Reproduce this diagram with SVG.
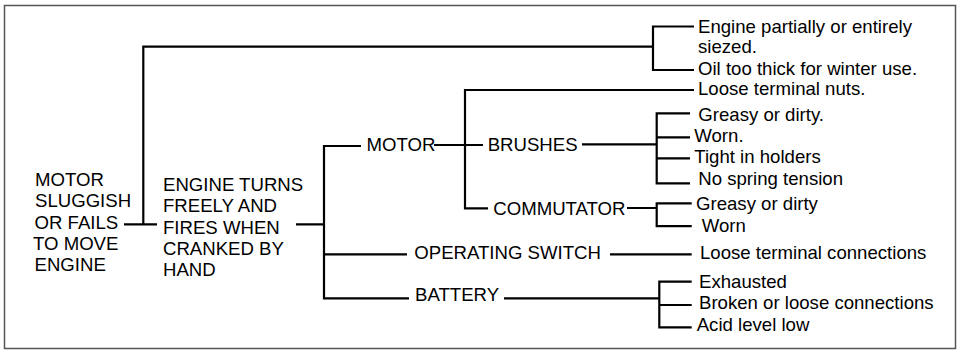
<svg xmlns="http://www.w3.org/2000/svg" width="963" height="355" viewBox="0 0 963 355">
<style>
text{font-family:"Liberation Sans",Arial,sans-serif;font-size:18.6px;fill:#000}
.c{fill:none;stroke:#000;stroke-width:2.2;stroke-linejoin:miter;stroke-linecap:butt}
.frame{fill:#fff;stroke:#555;stroke-width:1.5}
</style>
<rect class="frame" x="4.5" y="5.5" width="951" height="343"/>
<g id="connectors">
<path class="c" d="M124,224.3 H157 M143.3,224.3 V46.7 H653"/>
<path class="c" d="M694,26.5 H653 V70 H694"/>
<path class="c" d="M296,224.3 H324 M361,146 H324 V298.3 H409 M324,254.3 H407"/>
<path class="c" d="M434,145 H483 M694,90 H465 V208.3 H488"/>
<path class="c" d="M582,144.3 H656.7 M690,113.3 H656.7 V183.3 H690 M656.7,137.3 H690 M656.7,158.3 H690"/>
<path class="c" d="M627,208 H656.7 M691.7,203.3 H656.7 V226.2 H691.7"/>
<path class="c" d="M610,254.3 H691.7"/>
<path class="c" d="M504,298.3 H659.3 M691.7,281.7 H659.3 V327.3 H691.7 M659.3,305 H691.7"/>
</g>
<g id="root">
<text x="35" y="186">MOTOR</text>
<text x="35" y="207.3">SLUGGISH</text>
<text x="34.5" y="229">OR FAILS</text>
<text x="33" y="250.3">TO MOVE</text>
<text x="34.5" y="271.3">ENGINE</text>
</g>
<g id="engine-seized"><text x="698" y="32.8">Engine partially or entirely</text><text x="698" y="53">siezed.</text></g>
<g id="oil-thick"><text x="698" y="74.5">Oil too thick for winter use.</text></g>
<g id="engine-turns">
<text x="163" y="190.7">ENGINE TURNS</text>
<text x="163" y="211.8">FREELY AND</text>
<text x="163" y="233.5">FIRES WHEN</text>
<text x="163" y="255">CRANKED BY</text>
<text x="163" y="276.3">HAND</text>
</g>
<g id="motor"><text x="366.5" y="150.7">MOTOR</text></g>
<g id="loose-nuts"><text x="698" y="94.5">Loose terminal nuts.</text></g>
<g id="brushes"><text x="487.7" y="150.7">BRUSHES</text></g>
<g id="b-greasy"><text x="698.3" y="120.5">Greasy or dirty.</text></g>
<g id="b-worn"><text x="694.3" y="142">Worn.</text></g>
<g id="b-tight"><text x="694.3" y="163.3">Tight in holders</text></g>
<g id="b-spring"><text x="698.3" y="185">No spring tension</text></g>
<g id="commutator"><text x="493.3" y="215">COMMUTATOR</text></g>
<g id="c-greasy"><text x="696" y="210">Greasy or dirty</text></g>
<g id="c-worn"><text x="701.7" y="231.7">Worn</text></g>
<g id="switch"><text x="414.3" y="258.5">OPERATING SWITCH</text></g>
<g id="s-loose"><text x="700" y="258.5">Loose terminal connections</text></g>
<g id="battery"><text x="415" y="301">BATTERY</text></g>
<g id="bat-exhausted"><text x="699" y="288.3">Exhausted</text></g>
<g id="bat-broken"><text x="699" y="309.3">Broken or loose connections</text></g>
<g id="bat-acid"><text x="696.7" y="330.7">Acid level low</text></g>
</svg>
